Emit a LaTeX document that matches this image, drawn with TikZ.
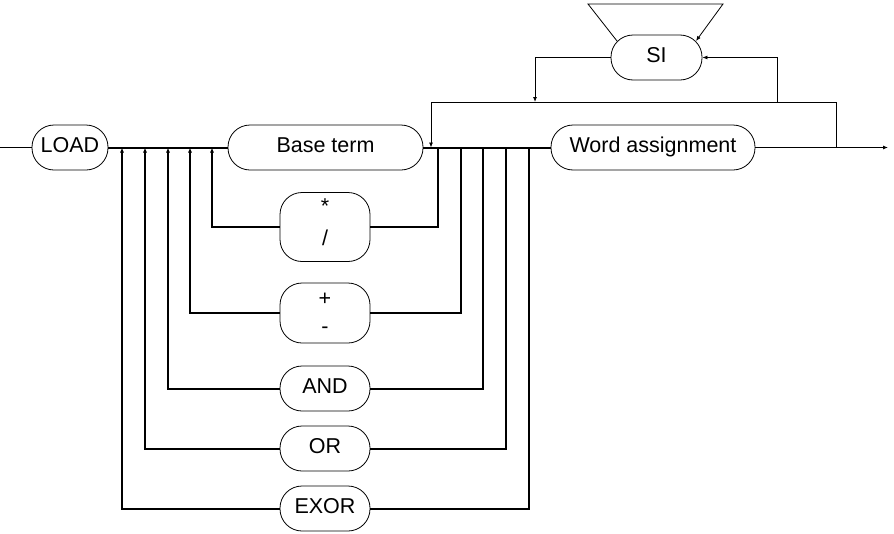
\documentclass[tikz,border=0pt]{standalone}
\usepackage{fontspec}
\setmainfont{Liberation Sans}
\usepackage{tikz}
\usetikzlibrary{arrows.meta}

% one operator branch: down from the main rail on the right,
% through the operator box, back up onto the rail on the left
\newcommand*{\branch}[3]{%
  \coordinate (#1-in) at (#3,147.5);
  \coordinate (#1-out) at (#2,147.5);
  \draw [rail] (#1-in) |- (#1.east);
  \draw [rail,headed] (#1.west) -| (#1-out);
}

\begin{document}
\begin{tikzpicture}[x=1pt,y=-1pt,
    every node/.style = {font=\fontsize{21.5}{25}\selectfont},
    term/.style = {draw, line width=.8pt, rounded corners=22pt,
                   minimum height=45pt, inner sep=0pt, align=center,
                   text height=15pt, text depth=4.5pt},
    rail/.style = {line width=2pt},
    wire/.style = {line width=.8pt},
    headed/.style = {-{Latex[length=5pt,width=4pt]}}]
  \useasboundingbox (0,0) rectangle (894,533);

  % main line
  \node[term, minimum width=76pt]  (LOAD) at (70,147.5)    {LOAD};
  \node[term, minimum width=195pt] (base) at (325.5,147.5) {Base term};
  \node[term, minimum width=204pt] (word) at (653,147.5)   {Word assignment};
  \node[term, minimum width=91pt]  (SI)   at (656.5,57.5)  {SI};

  % operators
  \node[term, minimum width=90pt, minimum height=69pt,
        text height=36pt, text depth=0pt]
    (muldiv) at (325,227) {*\\[7pt]/};
  \node[term, minimum width=90pt, minimum height=60pt,
        text height=40pt, text depth=0pt]
    (addsub) at (325,313) {+\\[3pt]-};
  \node[term, minimum width=90pt] (opand) at (325,388.5) {AND};
  \node[term, minimum width=90pt] (opor)  at (325,448.5) {OR};
  \node[term, minimum width=90pt] (opxor) at (325,508.5) {EXOR};

  \coordinate (entry) at (0,147.5);
  \coordinate (exit)  at (888,147.5);
  \draw[wire] (entry) -- (LOAD.west);
  \draw[rail] (LOAD.east) -- (base.west);
  \draw[rail] (base.east) -- (word.west);
  \draw[wire,headed] (word.east) -- (exit);

  \branch{muldiv}{212}{438}
  \branch{addsub}{190}{461}
  \branch{opand}{168}{483}
  \branch{opor}{145}{506}
  \branch{opxor}{122}{529}

  % bypass of the word assignment, with SI repeated on it
  \coordinate (skipR) at (836,147.5);
  \coordinate (skipL) at (431,147.5);
  \coordinate (over)  at (431,102);
  \draw[wire,headed] (skipR) |- (over) -- (skipL);
  \coordinate (siR) at (777,102);
  \coordinate (siL) at (535,102);
  \draw[wire,headed] (siR) |- (SI.east);
  \draw[wire,headed] (SI.west) -| (siL);
  \coordinate (repL) at (588,4);
  \coordinate (repR) at (723,4);
  \draw[wire,headed] ([shift={(6.4,6.4)}]SI.north west) -- (repL) -- (repR)
    -- ([shift={(-6.4,6.4)}]SI.north east);
\end{tikzpicture}
\end{document}
